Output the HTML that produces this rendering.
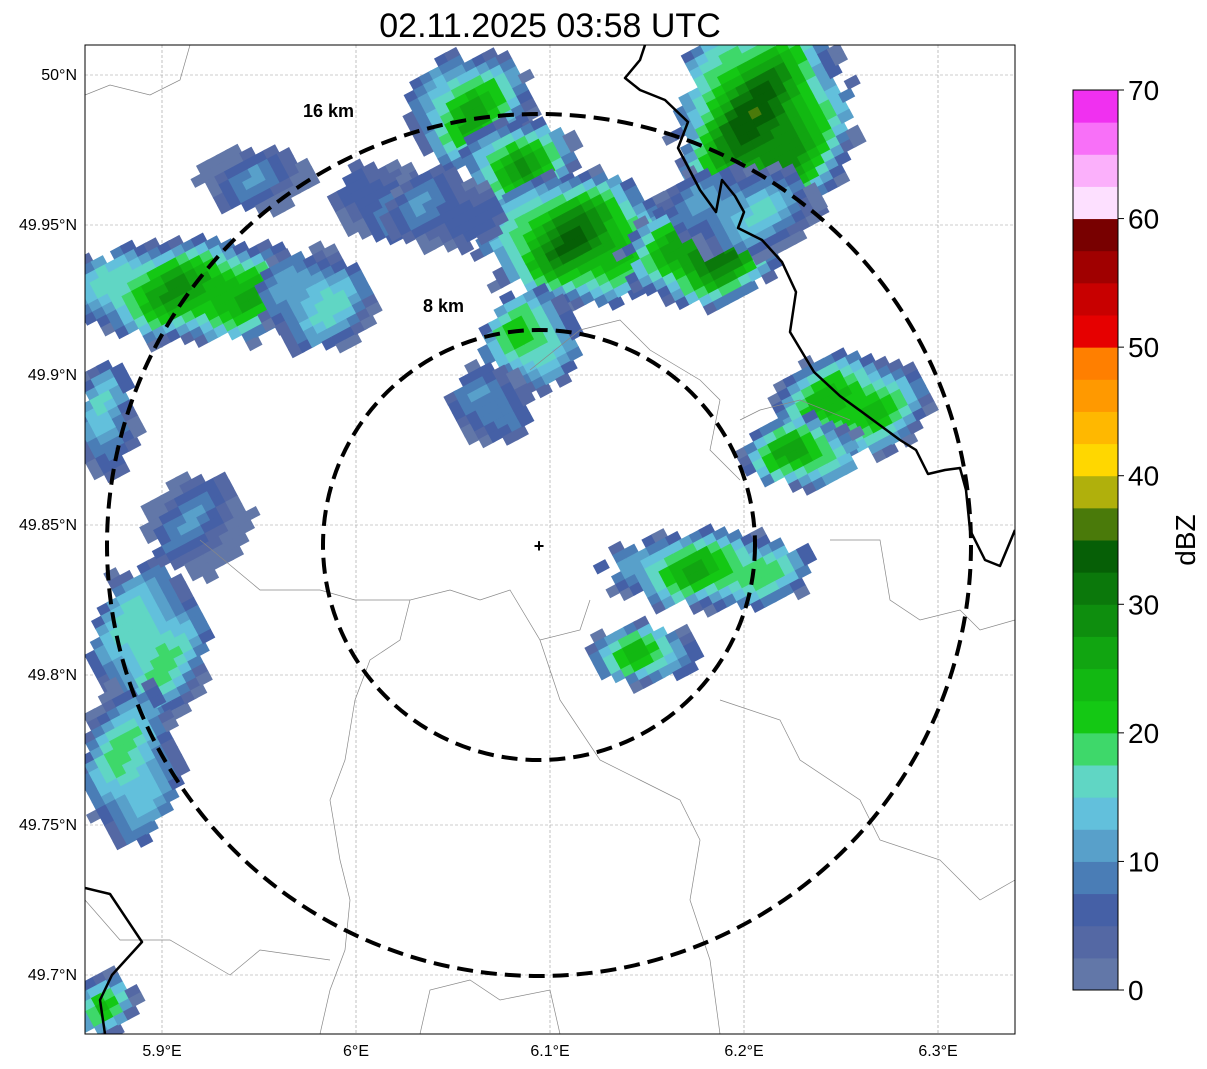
<!DOCTYPE html>
<html><head><meta charset="utf-8"><style>
body{margin:0;background:#fff;font-family:"Liberation Sans",sans-serif}
svg{display:block}
</style></head><body>
<svg id="s" width="1207" height="1069" font-family="Liberation Sans, sans-serif">
<defs><clipPath id="mapclip"><rect x="85" y="45" width="930" height="989"/></clipPath></defs>
<text x="550" y="37" text-anchor="middle" font-size="34">02.11.2025 03:58 UTC</text>
<g id="grid"></g>
<g id="radar" clip-path="url(#mapclip)"></g>
<g id="borders" clip-path="url(#mapclip)"></g>
<g id="rings" clip-path="url(#mapclip)"></g>
<rect x="85" y="45" width="930" height="989" fill="none" stroke="#000" stroke-width="1"/>
<g id="ticks"></g>
<g id="cbar"></g>
</svg>
<script>
const NS='http://www.w3.org/2000/svg';
const lonTicks=[5.9,6.0,6.1,6.2,6.3];
const lonLabels=['5.9°E','6°E','6.1°E','6.2°E','6.3°E'];
const latTicks=[50.0,49.95,49.9,49.85,49.8,49.75,49.7];
const latLabels=['50°N','49.95°N','49.9°N','49.85°N','49.8°N','49.75°N','49.7°N'];
const cbarColors=['#6277a8','#5468a4','#4560a6','#4a7db6','#58a0ca','#62c0dc','#60d6c4','#3ed86a','#14c814','#12b812','#11a511','#0e8e0e','#0b780b','#065f06','#4a7a0a','#b0b00c','#ffd700','#ffb800','#ff9900','#ff7f00','#e60000','#c80000','#a00000','#780000','#fde0ff','#fbb0fb','#f870f8','#f030f0'];
const cbarTicks=[0,10,20,30,40,50,60,70];
// radar cluster data: lon, lat, radius lon, radius lat, peak dBZ
const cLon=[5.92,5.98,6.06,6.085,6.115,6.21,6.18,6.255,6.23,6.09,6.183,6.148,5.894,5.884,5.872,5.918,6.015,6.045,5.87,6.07,6.2,5.95];
const cLat=[49.928,49.925,49.988,49.97,49.945,49.983,49.94,49.89,49.874,49.912,49.835,49.807,49.81,49.77,49.885,49.85,49.958,49.955,49.69,49.89,49.955,49.965];
const cRx=[0.072,0.03,0.032,0.03,0.05,0.045,0.04,0.04,0.03,0.025,0.055,0.03,0.03,0.025,0.015,0.026,0.025,0.03,0.016,0.02,0.04,0.03];
const cRy=[0.017,0.017,0.02,0.015,0.022,0.04,0.017,0.017,0.012,0.017,0.013,0.01,0.027,0.027,0.02,0.017,0.013,0.013,0.01,0.013,0.015,0.01];
const cPeak=[27,16,24,26,31,33,31,25,26,22,24,22,19,18,15,8,10,9,20,12,14,8];

const X=lon=>162+(lon-5.9)*1940;
const Y=lat=>75+(50-lat)*3000;
const CB=v=>990-v*(900/70);
function el(tag,attrs,parent){const e=document.createElementNS(NS,tag);for(const k in attrs)e.setAttribute(k,attrs[k]);parent.appendChild(e);return e;}
const grid=document.getElementById('grid'),ticks=document.getElementById('ticks');
lonTicks.forEach((t,i)=>{
 const l=el('line',{x1:X(t),x2:X(t),y1:45,y2:1034,stroke:'#999','stroke-width':0.6,'stroke-dasharray':'3,2'},grid);
 
 
 const tx=el('text',{x:X(t),y:1056,'text-anchor':'middle','font-size':16},ticks);tx.textContent=lonLabels[i];
 
 
});
latTicks.forEach((t,i)=>{
 const l=el('line',{x1:85,x2:1015,y1:Y(t),y2:Y(t),stroke:'#999','stroke-width':0.6,'stroke-dasharray':'3,2'},grid);
 
 
 const tx=el('text',{x:77,y:Y(t)+5,'text-anchor':'end','font-size':16},ticks);tx.textContent=latLabels[i];
 
 
});
const radar=document.getElementById('radar');
function colorFor(v){const i=Math.max(0,Math.min(27,Math.floor(v/2.5)));return cbarColors[i];}
const ang=-28*Math.PI/180,ca=Math.cos(ang),sa=Math.sin(ang);
for(let c=0;c<cLon.length;c++){
 const cx=X(cLon[c]),cy=Y(cLat[c]),rx=cRx[c]*1940,ry=cRy[c]*3000;
 const R=Math.max(rx,ry)*1.1;
 for(let u=-R;u<=R;u+=11){for(let w=-R;w<=R;w+=9){
  const px=cx+u*ca-w*sa,py=cy+u*sa+w*ca;
  const d=((px-cx)/rx)**2+((py-cy)/ry)**2;
  const wob=0.25*Math.sin(px*0.13)*Math.cos(py*0.11);
  if(d>1+wob)continue;
  let v=cPeak[c]*(1-0.85*d)+3*Math.sin(px*0.07+py*0.05);
  if(v<0.5)v=1;
  const r=el('rect',{x:-7,y:-5,width:14,height:10,fill:colorFor(v),transform:`translate(${px.toFixed(1)},${py.toFixed(1)}) rotate(-28)`},radar);
  
  
 }}
}
const borders=document.getElementById('borders');
const thin=[
 'M85,95 L110,85 L150,95 L180,80 L190,45','M320,1034 L330,990 L345,950 L350,900 L340,860 L330,800 L345,760 L355,700',
 'M355,700 L370,660 L400,640 L410,600 L450,590 L480,600 L510,590 L540,640 L580,630 L590,600',
 'M200,540 L260,590 L320,590 L355,600 L410,600','M85,900 L120,940 L170,940 L230,975 L260,950 L330,960',
 'M540,640 L560,700 L600,760 L640,780 L680,800 L700,840 L690,900 L710,960 L720,1034',
 'M720,700 L780,720 L800,760 L860,800 L880,840 L940,860 L980,900 L1015,880',
 'M830,540 L880,540 L890,600 L920,620 L960,610 L980,630 L1015,620','M740,420 L760,410 L800,400 L850,420',
 'M530,370 L580,330 L620,320 L650,350 L700,380 L720,400 L710,450 L740,480',
 'M420,1034 L430,990 L470,980 L500,1000 L550,990 L560,1034'];
thin.forEach(d=>{const p=el('path',{d:d,fill:'none',stroke:'#888','stroke-width':0.7},borders);
 
 });
const thick=['M645,45 L640,60 L625,78 L640,90 L665,100 L688,122 L678,148 L700,190 L716,212 L722,180 L735,196 L744,212 L738,228 L762,240 L782,262 L796,292 L790,332 L814,372 L840,396 L862,412 L900,440 L916,450 L928,474 L945,470 L960,468 L966,490 L970,530 L985,560 L1000,566 L1015,530',
 'M85,888 L110,894 L142,942 L112,975 L100,1000 L105,1034'];
thick.forEach(d=>{const p=el('path',{d:d,fill:'none',stroke:'#000','stroke-width':2.5,'stroke-linejoin':'round'},borders);
 
 });
const rings=document.getElementById('rings');
[[216,215],[432,431]].forEach((r,i)=>{const e=el('ellipse',{cx:539,cy:545,rx:r[0],ry:r[1],fill:'none',stroke:'#000','stroke-width':4,'stroke-dasharray':'16,8'},rings);
 
 });
let t=el('text',{x:423,y:312,'font-size':18,'font-weight':'bold'},rings);t.textContent='8 km';


t=el('text',{x:303,y:117,'font-size':18,'font-weight':'bold'},rings);t.textContent='16 km';


t=el('text',{x:539,y:552,'font-size':18,'font-weight':'bold','text-anchor':'middle'},rings);t.textContent='+';


const cb=document.getElementById('cbar');
cbarColors.forEach((c,i)=>{const r=el('rect',{x:1073,y:CB((i+1)*2.5),width:45,height:CB(i*2.5)-CB((i+1)*2.5)+0.5,fill:c},cb);
 
 });
el('rect',{x:1073,y:CB(70),width:45,height:CB(0)-CB(70),fill:'none',stroke:'#000','stroke-width':1},cb);
cbarTicks.forEach(v=>{el('line',{x1:1118,x2:1124,y1:CB(v),y2:CB(v),stroke:'#000'},cb);
 const tx=el('text',{x:1128,y:CB(v)+10,'font-size':28},cb);tx.textContent=v;
 
 });
t=el('text',{x:1195,y:540,'font-size':28,'text-anchor':'middle',transform:'rotate(-90 1195 540)'},cb);t.textContent='dBZ';


</script>
</body></html>
